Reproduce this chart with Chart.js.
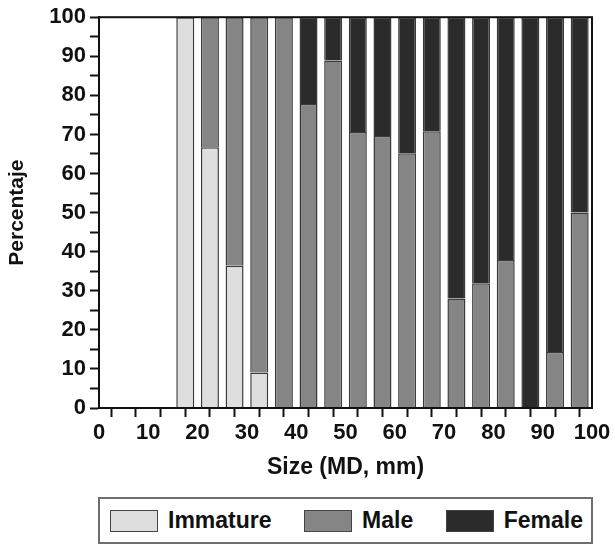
<!DOCTYPE html>
<html lang="en">
<head>
    <meta charset="UTF-8">
    <title>Percentaje por talla</title>
    <script src="https://cdn.jsdelivr.net/npm/chart.js"></script>
    <style>
        body {
            margin: 0;
            background: #fff;
            font-family: "Liberation Sans", Arial, sans-serif;
        }
        .wrap {
            position: relative;
            width: 615px;
            height: 545px;
        }
        .chart-box {
            position: absolute;
            left: 0;
            top: 0;
            width: 615px;
            height: 485px;
        }
        .legend {
            position: absolute;
            left: 98px;
            top: 497px;
            width: 495px;
            height: 47px;
            border: 2px solid #6e6e6e;
            display: flex;
            align-items: center;
            justify-content: space-between;
            padding: 0 8px 0 10px;
            box-sizing: border-box;
        }
        .legend-item {
            display: flex;
            align-items: center;
            font-weight: bold;
            font-size: 23px;
            color: #111;
        }
        .swatch {
            width: 46px;
            height: 20px;
            border: 1.5px solid #444;
            margin-right: 10px;
        }
    </style>
</head>
<body>
<div class="wrap">
    <div class="chart-box"><canvas id="sizeChart"></canvas></div>
    <div class="legend" id="legend"></div>
</div>

<script>
    // bin midpoints (MD, mm), 5 mm classes
    const sizes = [17.5, 22.5, 27.5, 32.5, 37.5, 42.5, 47.5, 52.5, 57.5, 62.5, 67.5, 72.5, 77.5, 82.5, 87.5, 92.5, 97.5];

    // percentages per class
    const immature = [100, 66.7, 36.4, 9.1, null, null, null, null, null, null, null, null, null, null, null, null, null];
    const male     = [null, 33.3, 63.6, 90.9, 100, 77.8, 88.9, 70.6, 69.6, 65.2, 70.8, 28.0, 31.9, 37.9, null, 14.3, 50];
    const female   = [null, null, null, null, null, 22.2, 11.1, 29.4, 30.4, 34.8, 29.2, 72.0, 68.1, 62.1, 100, 85.7, 50];

    const seriesNames = ['Immature', 'Male', 'Female'];
    const seriesColors = ['#dedede', '#858585', '#2b2b2b'];

    const FONT = '"Liberation Sans", Arial, sans-serif';

    function toPoints(values) {
        return sizes.map((s, i) => ({ x: s, y: values[i] }));
    }

    // frame on top and right of the plot
    const framePlugin = {
        id: 'frame',
        afterDraw(chart) {
            const { ctx, chartArea: a } = chart;
            ctx.save();
            ctx.strokeStyle = '#111';
            ctx.lineWidth = 2;
            ctx.strokeRect(a.left, a.top, a.right - a.left, a.bottom - a.top);
            ctx.restore();
        }
    };

    const ctx = document.getElementById('sizeChart').getContext('2d');
    new Chart(ctx, {
        type: 'bar',
        data: {
            datasets: [immature, male, female].map((vals, i) => ({
                label: seriesNames[i],
                data: toPoints(vals),
                backgroundColor: seriesColors[i],
                borderColor: '#3a3a3a',
                borderWidth: 1.5,
                categoryPercentage: 1,
                barPercentage: 0.73
            }))
        },
        options: {
            responsive: true,
            maintainAspectRatio: false,
            animation: false,
            layout: { padding: { top: 17, right: 23, left: 0, bottom: 0 } },
            plugins: {
                legend: { display: false },
                tooltip: { enabled: false }
            },
            scales: {
                x: {
                    type: 'linear',
                    stacked: true,
                    min: 0,
                    max: 100,
                    offset: false,
                    afterFit(scale) { scale.height = 77; },
                    grid: {
                        drawOnChartArea: false,
                        drawTicks: true,
                        tickLength: 9,
                        tickWidth: 2,
                        tickColor: '#111'
                    },
                    border: { display: true, color: '#111', width: 2 },
                    ticks: {
                        stepSize: 5,
                        autoSkip: false,
                        maxRotation: 0,
                        padding: 3,
                        color: '#111',
                        font: { family: FONT, size: 22, weight: 'bold' },
                        callback: (v) => (v % 10 === 0 ? v : '')
                    },
                    title: {
                        display: true,
                        text: 'Size (MD, mm)',
                        color: '#111',
                        font: { family: FONT, size: 23, weight: 'bold' },
                        padding: { top: 0, bottom: 4 }
                    }
                },
                y: {
                    stacked: true,
                    min: 0,
                    max: 100,
                    afterFit(scale) { scale.width = 99; },
                    grid: {
                        drawOnChartArea: false,
                        drawTicks: true,
                        tickLength: 9,
                        tickWidth: 2,
                        tickColor: '#111'
                    },
                    border: { display: true, color: '#111', width: 2 },
                    ticks: {
                        stepSize: 5,
                        autoSkip: false,
                        padding: 4,
                        color: '#111',
                        font: { family: FONT, size: 22, weight: 'bold' },
                        callback: (v) => (v % 10 === 0 ? v : '')
                    },
                    title: {
                        display: true,
                        text: 'Percentaje',
                        color: '#111',
                        font: { family: FONT, size: 21, weight: 'bold' },
                        padding: { top: 5, bottom: 0 }
                    }
                }
            }
        },
        plugins: [framePlugin]
    });

    // HTML legend in a box under the axis
    const legendEl = document.getElementById('legend');
    seriesNames.forEach((name, i) => {
        const item = document.createElement('div');
        item.className = 'legend-item';
        const sw = document.createElement('span');
        sw.className = 'swatch';
        sw.style.background = seriesColors[i];
        item.appendChild(sw);
        item.appendChild(document.createTextNode(name));
        legendEl.appendChild(item);
    });
</script>
</body>
</html>
